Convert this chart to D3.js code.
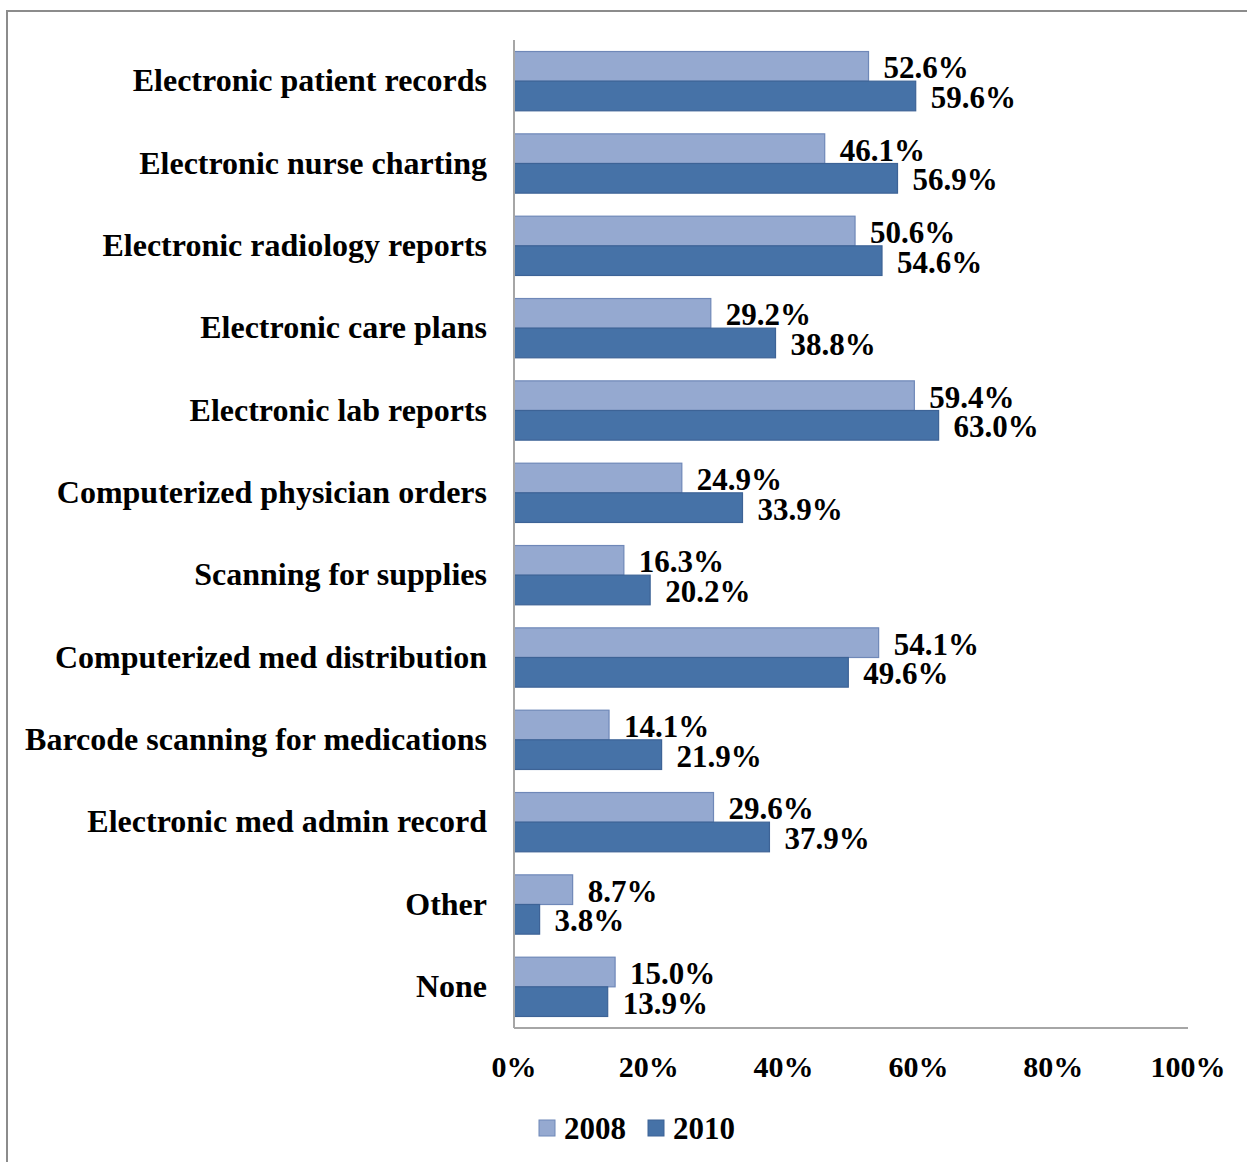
<!DOCTYPE html>
<html>
<head>
<meta charset="utf-8">
<script src="https://cdn.jsdelivr.net/npm/d3@7"></script>
<style>
  html, body { margin: 0; padding: 0; background: #fff; }
  svg { display: block; }
  text { font-family: "Liberation Serif", "Times New Roman", serif; font-weight: bold; fill: #000; }
</style>
</head>
<body>
<svg id="chart" width="1247" height="1162"></svg>
<script>
// Technologies in use, share of respondents (%)
const categories = [
  "Electronic patient records",
  "Electronic nurse charting",
  "Electronic radiology reports",
  "Electronic care plans",
  "Electronic lab reports",
  "Computerized physician orders",
  "Scanning for supplies",
  "Computerized med distribution",
  "Barcode scanning for medications",
  "Electronic med admin record",
  "Other",
  "None"
];
const seriesNames = ["2008", "2010"];
const values2008 = [52.6, 46.1, 50.6, 29.2, 59.4, 24.9, 16.3, 54.1, 14.1, 29.6, 8.7, 15.0];
const values2010 = [59.6, 56.9, 54.6, 38.8, 63.0, 33.9, 20.2, 49.6, 21.9, 37.9, 3.8, 13.9];
const xTicks = [0, 20, 40, 60, 80, 100];

const colors = { "2008": "#95A9D0", "2010": "#4672A7" };
const strokes = { "2008": "#6F88B8", "2010": "#3D6396" };

const rows = categories.map((c, i) => ({ cat: c, "2008": values2008[i], "2010": values2010[i] }));

const svg = d3.select("#chart");

// outer frame
svg.append("rect")
  .attr("x", 7).attr("y", 11)
  .attr("width", 1300).attr("height", 1300)
  .attr("fill", "none").attr("stroke", "#8c8c8c").attr("stroke-width", 2);

const plot = { left: 514, right: 1188, top: 40, bottom: 1028 };

const x = d3.scaleLinear().domain([0, 100]).range([plot.left, plot.right]);
const y = d3.scaleBand().domain(categories).range([plot.top, plot.bottom])
  .paddingInner(0.28).paddingOuter(0.14);
const ySub = d3.scaleBand().domain(seriesNames).range([0, y.bandwidth()]);

// bars
const groups = svg.append("g").selectAll("g")
  .data(rows).join("g")
  .attr("transform", d => `translate(0,${y(d.cat)})`);

groups.selectAll("rect")
  .data(d => seriesNames.map(s => ({ s, v: d[s] })))
  .join("rect")
  .attr("x", x(0))
  .attr("y", d => ySub(d.s))
  .attr("width", d => x(d.v) - x(0))
  .attr("height", ySub.bandwidth())
  .attr("fill", d => colors[d.s])
  .attr("stroke", d => strokes[d.s])
  .attr("stroke-width", 1.2);

// value labels
groups.selectAll("text")
  .data(d => seriesNames.map(s => ({ s, v: d[s] })))
  .join("text")
  .attr("x", d => x(d.v) + 15)
  .attr("y", d => ySub(d.s) + ySub.bandwidth() / 2 + 12)
  .attr("font-size", 31)
  .text(d => d.v.toFixed(1) + "%");

// axes lines
const axisColor = "#a6a6a6";
svg.append("line")
  .attr("x1", plot.left).attr("x2", plot.left)
  .attr("y1", plot.top).attr("y2", plot.bottom)
  .attr("stroke", axisColor).attr("stroke-width", 2);
svg.append("line")
  .attr("x1", plot.left).attr("x2", plot.right)
  .attr("y1", plot.bottom).attr("y2", plot.bottom)
  .attr("stroke", axisColor).attr("stroke-width", 2);

// category labels
svg.append("g").selectAll("text")
  .data(categories).join("text")
  .attr("x", plot.left - 27)
  .attr("y", d => y(d) - y.step() * 0.14 + y.step() / 2 + 10)
  .attr("text-anchor", "end")
  .attr("font-size", 32)
  .text(d => d);

// x tick labels
svg.append("g").selectAll("text")
  .data(xTicks).join("text")
  .attr("x", d => x(d))
  .attr("y", 1077)
  .attr("text-anchor", "middle")
  .attr("font-size", 30)
  .text(d => d + "%");

// legend
const legend = svg.append("g").attr("transform", "translate(539,1120)");
const legendItems = legend.selectAll("g")
  .data(seriesNames).join("g")
  .attr("transform", (d, i) => `translate(${i * 109},0)`);
legendItems.append("rect")
  .attr("width", 16).attr("height", 16)
  .attr("fill", d => colors[d]).attr("stroke", d => strokes[d]).attr("stroke-width", 1);
legendItems.append("text")
  .attr("x", 25).attr("y", 19)
  .attr("font-size", 31)
  .text(d => d);
</script>
</body>
</html>
